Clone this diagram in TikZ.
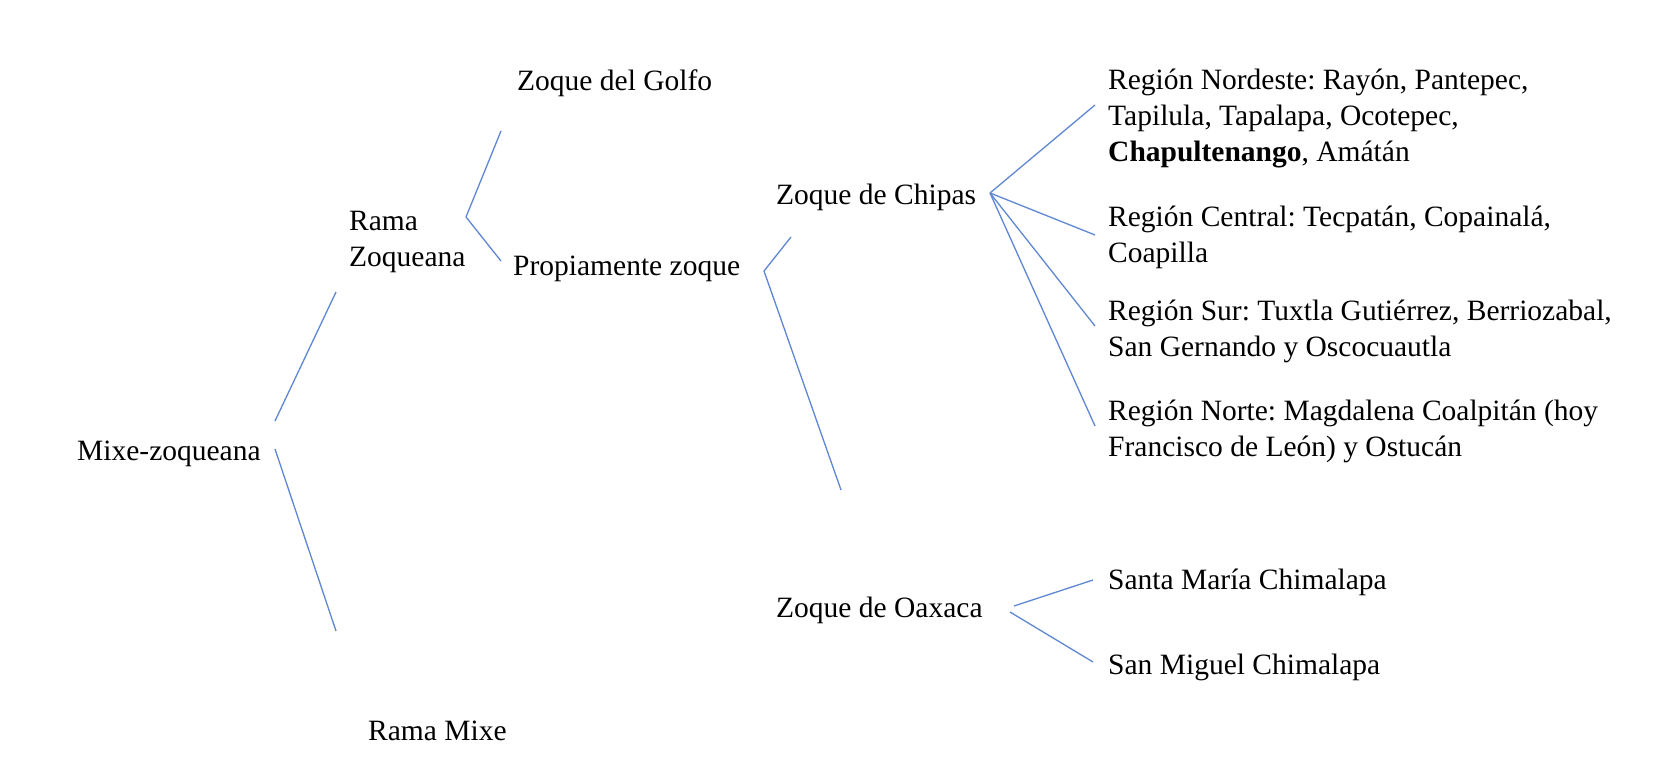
\documentclass[tikz,border=0pt]{standalone}
\usepackage{fontspec}
\setmainfont{Liberation Serif}
\frenchspacing
\definecolor{linkblue}{RGB}{95,135,210}
\begin{document}
\begin{tikzpicture}[x=1pt,y=-1pt,
  lbl/.style={anchor=west,inner sep=0pt,align=left,font=\fontsize{29.5}{36}\selectfont},
  link/.style={draw=linkblue,line width=1.3pt}]
\useasboundingbox[fill=white] (0,0) rectangle (1659,784);
% labels
\node[lbl] (mixe) at (77,454) {Mixe-zoqueana};
\node[lbl] (ramaz) at (349,242) {Rama\\Zoqueana};
\node[lbl] (ramam) at (368,731) {Rama Mixe};
\node[lbl] (golfo) at (517,83) {Zoque del Golfo};
\node[lbl] (propia) at (513,269) {Propiamente zoque};
\node[lbl] (chipas) at (776,197) {Zoque de Chipas};
\node[lbl] (oaxaca) at (776,610) {Zoque de Oaxaca};
\node[lbl] (nord) at (1108,118) {Región Nordeste: Rayón, Pantepec,\\Tapilula, Tapalapa, Ocotepec,\\\textbf{Chapultenango}, Amátán};
\node[lbl] (central) at (1108,237) {Región Central: Tecpatán, Copainalá,\\Coapilla};
\node[lbl] (sur) at (1108,331) {Región Sur: Tuxtla Gutiérrez, Berriozabal,\\San Gernando y Oscocuautla};
\node[lbl] (norte) at (1108,431) {Región Norte: Magdalena Coalpitán (hoy\\Francisco de León) y Ostucán};
\node[lbl] (smaria) at (1108,582) {Santa María Chimalapa};
\node[lbl] (smiguel) at (1108,667) {San Miguel Chimalapa};
% connector end points
\coordinate (m1) at (275,421); \coordinate (m1e) at (336,292);
\coordinate (m2) at (275,449); \coordinate (m2e) at (336,631);
\coordinate (rz) at (466,217); \coordinate (rzu) at (501,131); \coordinate (rzl) at (501,261);
\coordinate (pz) at (764,271); \coordinate (pzu) at (791,237); \coordinate (pzl) at (841,490);
\coordinate (ch) at (990,193);
\coordinate (ch1) at (1095,105); \coordinate (ch2) at (1095,235);
\coordinate (ch3) at (1095,326); \coordinate (ch4) at (1095,426);
\coordinate (ox1) at (1014,606); \coordinate (ox1e) at (1093,580);
\coordinate (ox2) at (1010,612); \coordinate (ox2e) at (1093,662);
% connectors
\draw[link] (m1) -- (m1e);
\draw[link] (m2) -- (m2e);
\draw[link] (rzu) -- (rz) -- (rzl);
\draw[link] (pzu) -- (pz) -- (pzl);
\draw[link] (ch) -- (ch1);
\draw[link] (ch) -- (ch2);
\draw[link] (ch) -- (ch3);
\draw[link] (ch) -- (ch4);
\draw[link] (ox1) -- (ox1e);
\draw[link] (ox2) -- (ox2e);
\end{tikzpicture}
\end{document}
